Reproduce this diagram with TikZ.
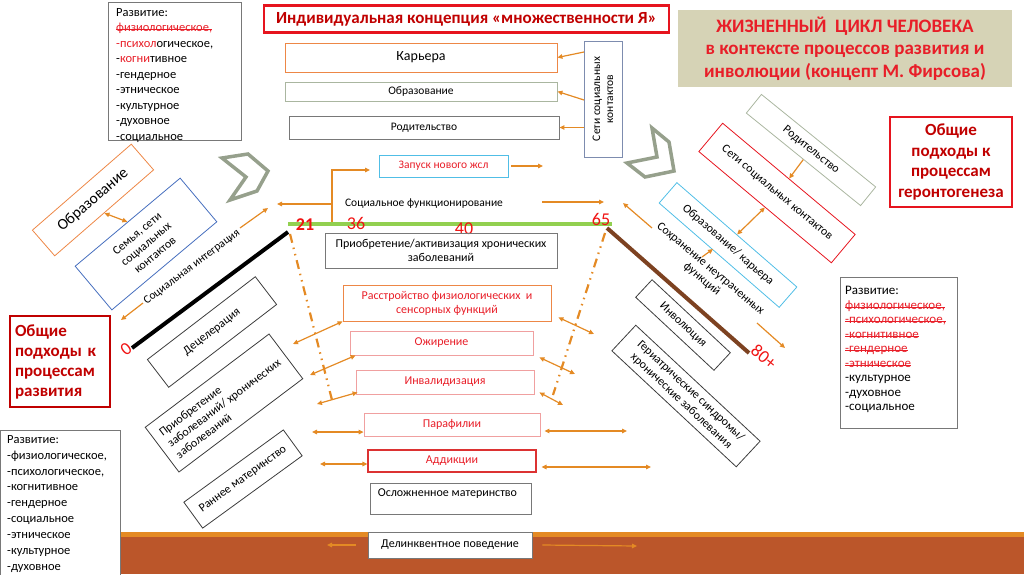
\documentclass[tikz,border=0pt]{standalone}
\usepackage{fontspec}
\setmainfont{Carlito}
\usetikzlibrary{arrows.meta,calc,positioning}
\definecolor{ora}{RGB}{228,138,36}
\definecolor{orabox}{RGB}{237,135,70}
\definecolor{redtxt}{RGB}{232,30,40}
\definecolor{darkred}{RGB}{192,0,0}
\definecolor{titlered}{RGB}{230,20,30}
\definecolor{tanfill}{RGB}{214,211,182}
\definecolor{boxgray}{RGB}{120,120,120}
\definecolor{boxdark}{RGB}{60,60,60}
\definecolor{sage}{RGB}{170,182,160}
\definecolor{slate}{RGB}{125,140,175}
\definecolor{skyblue}{RGB}{80,190,230}
\definecolor{famblue}{RGB}{70,110,190}
\definecolor{pinkbox}{RGB}{240,160,160}
\definecolor{addred}{RGB}{220,50,50}
\definecolor{linegreen}{RGB}{146,208,80}
\definecolor{linebrown}{RGB}{125,66,33}
\definecolor{chevgray}{RGB}{150,160,140}
\definecolor{bandbrown}{RGB}{187,86,42}
\definecolor{numred}{RGB}{240,20,20}
\newcommand{\fsz}[2]{\fontsize{#1}{#2}\selectfont}
\newcommand{\strk}[1]{\leavevmode\setbox0\hbox{#1}\rlap{\raisebox{0.3ex}{\rule{\wd0}{0.6pt}}}\box0}
\tikzset{
  arr/.style={draw=ora,line width=1.2pt,-{Triangle[length=5pt,width=4.5pt]}},
  arrb/.style={draw=ora,line width=1.2pt,{Triangle[length=5pt,width=4.5pt]}-{Triangle[length=5pt,width=4.5pt]}},
  cbox/.style={draw=#1,line width=0.8pt,align=center,inner sep=2pt,font=\fsz{12}{14}},
  cbox/.default=boxgray,
  redbox/.style={cbox=#1,text=redtxt},
  redbox/.default=pinkbox,
  listtext/.style={anchor=north west,align=left,inner sep=0pt},
  agenum/.style={text=numred,font=\fsz{18}{18}},
  chev/.style={draw=chevgray,line width=3.5pt},
  ddline/.style={draw=ora,line width=2.2pt,dash pattern=on 9pt off 5pt on 1.5pt off 5pt on 1.5pt off 5pt}
}

\begin{document}
\begin{tikzpicture}[x=1pt,y=-1pt]
\useasboundingbox (0,0) rectangle (1024,574);
% нижняя полоса
\fill[bandbrown] (0,532) rectangle (1024,574);
\fill[ora] (0,532) rectangle (1024,537);

% заголовки
\node[draw=titlered,line width=2.2pt,minimum width=405pt,minimum height=27pt,
  font=\fsz{17}{20}\bfseries,text=darkred] (title) at (466.5,19)
  {Индивидуальная концепция «множественности Я»};
\node[fill=tanfill,minimum width=334pt,minimum height=77pt,align=center,
  font=\fsz{19}{22.5}\bfseries,text=redtxt] (lifecycle) at (845,48.5)
  {ЖИЗНЕННЫЙ\ \ ЦИКЛ ЧЕЛОВЕКА\\в контексте процессов развития и\\инволюции (концепт М. Фирсова)};

% списки "Развитие"
\node[draw=boxgray,line width=0.8pt,minimum width=133pt,minimum height=138pt] (devtlbox) at (174.5,71) {};
\node[listtext,font=\fsz{12.5}{15.5}] (devtl) at (116,8) {Развитие:\\
  \textcolor{redtxt}{\strk{физиологическое,}}\\
  \textcolor{redtxt}{-психол}огическое,\\
  -\textcolor{redtxt}{когни}тивное\\
  -гендерное\\-этническое\\-культурное\\-духовное\\-социальное};
\node[draw=boxgray,line width=0.8pt,minimum width=117pt,minimum height=151pt] (devrbox) at (898.5,353) {};
\node[listtext,font=\fsz{13}{14.5}] (devr) at (845,286) {Развитие:\\
  \textcolor{redtxt}{\strk{физиологическое,}}\\
  \textcolor{redtxt}{\strk{-психологическое,}}\\
  \textcolor{redtxt}{\strk{-когнитивное}}\\
  \textcolor{redtxt}{\strk{-гендерное}}\\
  \textcolor{redtxt}{\strk{-этническое}}\\
  -культурное\\-духовное\\-социальное};
\node[draw=boxgray,fill=white,line width=0.8pt,minimum width=120pt,minimum height=146pt,anchor=north west] (devblbox) at (0,430) {};
\node[listtext,font=\fsz{12.5}{15.9}] (devbl) at (7,435) {Развитие:\\-физиологическое,\\-психологическое,\\
  -когнитивное\\-гендерное\\-социальное\\-этническое\\-культурное\\-духовное};

% общие подходы
\node[draw=darkred,line width=1.6pt,minimum width=100pt,minimum height=91pt,align=left,
  text width=90pt,font=\fsz{17}{20}\bfseries,text=darkred] (gendev) at (60,361.5)
  {Общие\\подходы к\\процессам\\развития};
\node[draw=titlered,line width=1.3pt,minimum width=122pt,minimum height=90pt,align=center,
  font=\fsz{17}{20.5}\bfseries,text=darkred] (gengero) at (951,162)
  {Общие\\подходы к\\процессам\\геронтогенеза};

% верхние блоки
\node[cbox=orabox,minimum width=272pt,minimum height=29pt,font=\fsz{14}{16}] (kar) at (421,57.5) {Карьера};
\node[cbox=sage,minimum width=272pt,minimum height=19pt,font=\fsz{11.5}{13}] (obrtop) at (421,91.5) {Образование};
\node[cbox,minimum width=270pt,minimum height=23pt,font=\fsz{11.5}{13}] (rodtop) at (424,127.5) {Родительство};
\node[cbox=slate,rotate=90,minimum width=116pt,minimum height=38pt,font=\fsz{11.5}{13}] (setiv) at (603,99) {Сети социальных\\контактов};
\coordinate (sk1) at (584,52);
\coordinate (sk2) at (584,100);
\coordinate (sk3) at (584,127.5);
\draw[arr] (sk1) -- (kar.east);
\draw[arr] (sk2) -- (obrtop.east);
\draw[arr] (sk3) -- (rodtop.east);

\node[redbox=skyblue,minimum width=129pt,minimum height=22pt,font=\fsz{11.5}{13}] (zap) at (443.5,166) {Запуск нового жсл};
\coordinate (zapout) at (543,166);
\draw[arr] ([xshift=3pt]zap.east) -- (zapout);
\coordinate (el0) at (332,223);
\coordinate (el1) at (370,170);
\draw[arr] (el0) |- (el1);
\coordinate (sf0) at (332,204);
\coordinate (sfl) at (277,204);
\draw[arr] (sf0) -- (sfl);
\node[font=\fsz{11.5}{13}] (socfun) at (424,204) {Социальное функционирование};
\coordinate (sf1) at (542,202);
\coordinate (sfr) at (604,202);
\draw[arr] (sf1) -- (sfr);

% шевроны
\draw[chev] (222,158) -- (248,154) -- (268,171) -- (257,191) -- (230,200) -- (246,177) -- cycle;
\draw[chev] (652,128) -- (669,142) -- (674,171) -- (645,177) -- (627,163) -- (657,157) -- cycle;

% линия жизни
\coordinate (a0) at (132,348);
\coordinate (a21) at (288,232);
\coordinate (g0) at (288,224);
\coordinate (g1) at (612,224);
\coordinate (a65) at (607,228);
\coordinate (a80) at (749,353);
\draw[line width=4pt] (a0) -- (a21);
\draw[linegreen,line width=4pt] (g0) -- (g1);
\draw[linebrown,line width=4pt] (a65) -- (a80);
\coordinate (dl0) at (290,234);
\coordinate (dl1) at (332,400);
\coordinate (dr0) at (605,233);
\coordinate (dr1) at (553,395);
\draw[ddline] (dl0) -- (dl1);
\draw[ddline] (dr0) -- (dr1);
\node[agenum,font=\fsz{18}{18}\bfseries] (n21) at (305,225) {21};
\node[agenum] (n36) at (356,223) {36};
\node[agenum] (n40) at (464,229) {40};
\node[agenum] (n65) at (601,219) {65};
\node[agenum,rotate=37] (n0) at (126,349) {0};
\node[agenum,rotate=-40] (n80) at (764,357) {80+};

% центральные блоки
\node[cbox,minimum width=232pt,minimum height=35pt] (hron) at (441,250.5) {Приобретение/активизация хронических\\заболеваний};
\node[redbox=orabox,minimum width=208pt,minimum height=36pt] (rasst) at (447,303) {Расстройство физиологических\ \ и\\сенсорных функций};
\node[redbox,minimum width=183pt,minimum height=24pt] (ozh) at (441.5,343) {Ожирение};
\node[redbox,minimum width=178pt,minimum height=24pt] (inval) at (445,382) {Инвалидизация};
\node[redbox,minimum width=176pt,minimum height=23pt] (paraf) at (452,424.5) {Парафилии};
\node[redbox=addred,line width=1.1pt,minimum width=168pt,minimum height=22pt] (addik) at (452,461) {Аддикции};
\node[cbox,minimum width=161pt,minimum height=31pt] (osl) at (450.5,498.5) {};
\node[anchor=west,font=\fsz{12}{14},inner sep=0pt] (osltxt) at ([xshift=8pt,yshift=-11pt]osl.north west) {Осложненное материнство};
\node[cbox,fill=white,minimum width=164pt,minimum height=26pt] (delinq) at (450,545) {Делинквентное поведение};

\coordinate (ra1) at (293,344);
\coordinate (oz1) at (310,375);
\coordinate (iv1) at (317,404);
\coordinate (pf1) at (312,432);
\coordinate (ad1) at (320,464);
\coordinate (ra2) at (594,334);
\coordinate (oz2) at (575,374);
\coordinate (iv2) at (563,405);
\coordinate (pf2) at (627,431);
\coordinate (ad2) at (651,467);
\coordinate (dq1) at (327,545);
\coordinate (dq2) at (637,546);
\draw[arrb] (ra1) -- (rasst.south west);
\draw[arrb] (oz1) -- ([xshift=6pt]ozh.south west);
\draw[arrb] (iv1) -- ([xshift=2pt,yshift=2pt]inval.south west);
\draw[arrb] (pf1) -- (paraf.west |- pf1);
\draw[arrb] (ad1) -- (addik.west |- ad1);
\draw[arrb] ([xshift=7pt,yshift=4pt]rasst.south east) -- (ra2);
\draw[arrb] ([xshift=6pt,yshift=-2pt]ozh.south east) -- (oz2);
\draw[arrb] ([xshift=5pt,yshift=2pt]inval.south east) -- (iv2);
\draw[arrb] ($(paraf.east |- pf2)+(4,0)$) -- (pf2);
\draw[arrb] ($(addik.east |- ad2)+(5,0)$) -- (ad2);
\draw[arr] ([xshift=-12pt]delinq.west) -- (dq1);
\draw[arr] ([xshift=10pt]delinq.east) -- (dq2);

% левая ветвь
\node[cbox=orabox,rotate=41,minimum width=131pt,minimum height=34pt,font=\fsz{15.5}{17}] (obrl) at (93,200) {Образование};
\node[cbox=famblue,rotate=40,minimum width=137pt,minimum height=57pt] (fam) at (146,244) {Семья, сети\\социальных\\контактов};
\draw[arrb] (obrl.south) -- (fam.north);
\node[rotate=37,font=\fsz{11.5}{13}] (socint) at (192,267) {Социальная интеграция};
\coordinate (si1) at (240,228);
\coordinate (si2) at (268,208);
\coordinate (si3) at (143,303);
\coordinate (si4) at (121,320);
\draw[arr] (si1) -- (si2);
\draw[arr] (si3) -- (si4);
\node[cbox=boxdark,rotate=37.5,minimum width=136pt,minimum height=35pt] (decel) at (212,332) {Децелерация};
\node[cbox=boxdark,rotate=37,minimum width=155pt,minimum height=56pt,align=left] (acq) at (224,403) {Приобретение\\заболеваний/ хронических\\заболеваний};
\node[cbox=boxdark,rotate=36,minimum width=123pt,minimum height=32pt] (early) at (243,479) {Раннее материнство};

% правая ветвь
\node[cbox=sage,rotate=-39,minimum width=147pt,minimum height=24pt] (rodr) at (811,150) {Родительство};
\node[cbox=titlered,rotate=-40,minimum width=173pt,minimum height=37pt] (setir) at (777,193) {Сети социальных контактов};
\draw[arr] (rodr.south) -- (setir.north);
\node[cbox=skyblue,rotate=-41,minimum width=159pt,minimum height=27pt] (obk) at (728,245) {Образование/ карьера};
\draw[arrb] (obk.north) -- (setir.south);
\node[rotate=-40,align=center,font=\fsz{12}{13.5}] (keep) at (706,274) {Сохранение неутраченных\\функций};
\coordinate (kp1) at (702,257);
\coordinate (kp2) at (713,249);
\coordinate (ua1) at (652,228);
\coordinate (ua2) at (623,203);
\coordinate (br1) at (757,323);
\coordinate (br2) at (785,348);
\draw[arr] (kp1) -- (kp2);
\draw[arr] (ua1) -- (ua2);
\draw[arr] (br1) -- (br2);
\node[cbox=boxdark,rotate=-43,minimum width=107pt,minimum height=24pt] (invol) at (683,325) {Инволюция};
\node[cbox=boxdark,rotate=-43,minimum width=170pt,minimum height=35pt] (geri) at (686,396) {Гериатрические синдромы/\\хронические заболевания};
\end{tikzpicture}
\end{document}
